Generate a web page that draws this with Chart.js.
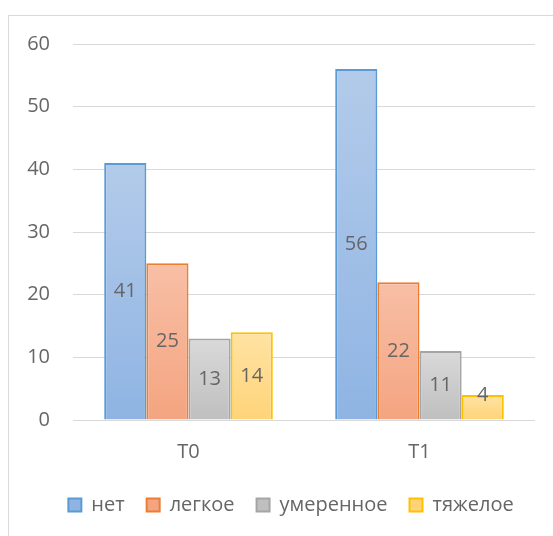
<!DOCTYPE html>
<html lang="ru">
<head>
<meta charset="utf-8">
<title>Степень тяжести: T0 и T1</title>
<script src="https://cdn.jsdelivr.net/npm/chart.js@4.4.1/dist/chart.umd.min.js"></script>
<style>
    html, body { margin: 0; padding: 0; background: #fff; overflow: hidden; }
    body { width: 553px; height: 536px; position: relative; }
    #frame {
        position: absolute; left: 8px; top: 15px;
        width: 566px; height: 536px;
        border: 1px solid #d9d9d9; box-sizing: border-box;
    }
    #chart { position: absolute; left: 8px; top: 15px; }
</style>
</head>
<body>
<div id="frame"></div>
<canvas id="chart" width="566" height="536"></canvas>
<script>
// Data
const categories = ['T0', 'T1'];
const seriesNames = ['нет', 'легкое', 'умеренное', 'тяжелое'];
const noneValues = [41, 56];
const mildValues = [25, 22];
const moderateValues = [13, 11];
const severeValues = [14, 4];
const yTicks = [0, 10, 20, 30, 40, 50, 60];

// Styles: [top of bar, bottom of bar, outline]
const seriesStyles = [
    ['#b3cbea', '#8fb4e3', '#5b9bd5'],
    ['#f8bfa6', '#f4a480', '#ed7d31'],
    ['#d9d9d9', '#bfbfbf', '#a5a5a5'],
    ['#ffe2a3', '#ffd479', '#ffc000']
];

const textColor = '#666666';
const fontFamily = '"Open Sans", "DejaVu Sans", sans-serif';
const fontSize = 20;
Chart.defaults.font.family = fontFamily;
Chart.defaults.font.size = fontSize;
Chart.defaults.color = textColor;

// Vertical gradient per bar, lighter on top
function barFill(style) {
    return function (ctx) {
        const chart = ctx.chart;
        const y = chart.scales && chart.scales.y;
        if (ctx.type !== 'data' || !y || !chart.chartArea || ctx.parsed == null) {
            return style[1];
        }
        const top = y.getPixelForValue(ctx.parsed.y);
        const bottom = y.getPixelForValue(0);
        if (!isFinite(top) || !isFinite(bottom) || top === bottom) return style[1];
        const g = chart.ctx.createLinearGradient(0, top, 0, bottom);
        g.addColorStop(0, style[0]);
        g.addColorStop(1, style[1]);
        return g;
    };
}

// Value labels centred in each bar, kept clear of the baseline
const barLabels = {
    id: 'barLabels',
    afterDatasetsDraw(chart) {
        const ctx = chart.ctx;
        ctx.save();
        ctx.font = fontSize + 'px ' + fontFamily;
        ctx.fillStyle = textColor;
        ctx.textAlign = 'center';
        ctx.textBaseline = 'middle';
        chart.data.datasets.forEach((ds, i) => {
            chart.getDatasetMeta(i).data.forEach((bar, j) => {
                let cy = (bar.y + bar.base) / 2;
                cy = Math.min(cy, bar.base - 24);
                ctx.fillText(String(ds.data[j]), bar.x, cy);
            });
        });
        ctx.restore();
    }
};

// Centre the legend on the whole frame rather than the padded area
const legendShift = {
    id: 'legendShift',
    afterLayout(chart) {
        const lg = chart.legend;
        if (!lg) return;
        const d = (chart.width - (lg.left + lg.right)) / 2;
        lg.left += d;
        lg.right += d;
    }
};

const allValues = [noneValues, mildValues, moderateValues, severeValues];

new Chart(document.getElementById('chart'), {
    type: 'bar',
    data: {
        labels: categories,
        datasets: seriesNames.map((name, i) => ({
            label: name,
            data: allValues[i],
            backgroundColor: barFill(seriesStyles[i]),
            borderColor: seriesStyles[i][2],
            borderWidth: 2,
            categoryPercentage: 0.73,
            barPercentage: 1.0
        }))
    },
    options: {
        responsive: false,
        animation: false,
        layout: { padding: { left: 10, right: 39, top: 29, bottom: 26 } },
        scales: {
            x: {
                grid: { display: false },
                border: { display: false },
                ticks: { padding: 12 },
                afterFit: s => { s.height = 53; }
            },
            y: {
                min: 0,
                max: 60,
                afterBuildTicks: s => { s.ticks = yTicks.map(v => ({ value: v })); },
                grid: { color: '#d9d9d9', lineWidth: 1, drawTicks: false },
                border: { display: false },
                ticks: { padding: 23 },
                afterFit: s => {
                    s.width = 55;
                    s.paddingTop = 0;
                    s.paddingBottom = 0;
                }
            }
        },
        plugins: {
            legend: {
                position: 'bottom',
                labels: { boxWidth: 13, boxHeight: 13, padding: 22, color: textColor }
            },
            tooltip: { enabled: false }
        }
    },
    plugins: [barLabels, legendShift]
});
</script>
</body>
</html>
